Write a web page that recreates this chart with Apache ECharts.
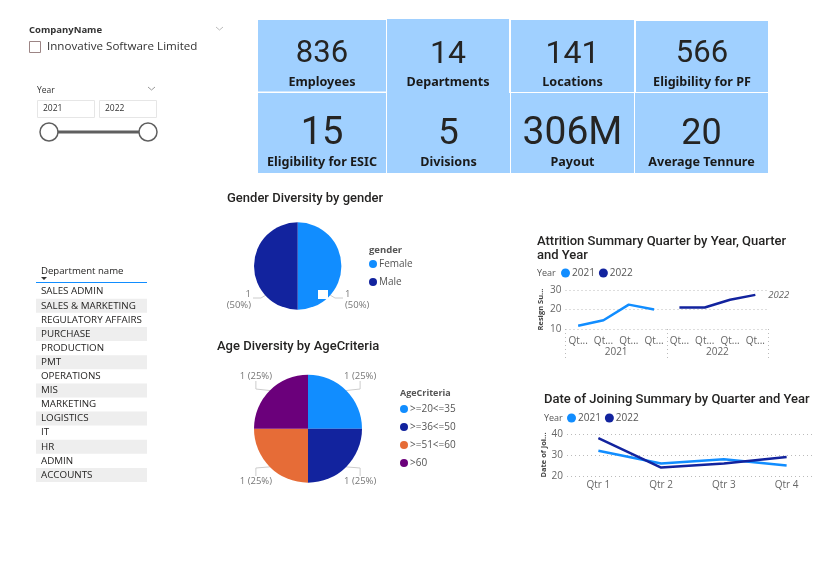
<!DOCTYPE html>
<html>
<head>
<meta charset="utf-8">
<title>HR dashboard</title>
<script src="https://cdn.jsdelivr.net/npm/echarts@6/dist/echarts.min.js"></script>
<style>
html,body{margin:0;padding:0;background:#fff;}
#main{width:818px;height:564px;}
</style>
</head>
<body>
<div id="main"></div>
<script>
// data
var kpiValues = ['836', '14', '141', '566', '15', '5', '306M', '20'];
var kpiLabels = ['Employees', 'Departments', 'Locations', 'Eligibility for PF', 'Eligibility for ESIC', 'Divisions', 'Payout', 'Average Tennure'];
var departments = ['SALES ADMIN', 'SALES & MARKETING', 'REGULATORY AFFAIRS', 'PURCHASE', 'PRODUCTION', 'PMT', 'OPERATIONS', 'MIS', 'MARKETING', 'LOGISTICS', 'IT', 'HR', 'ADMIN', 'ACCOUNTS'];
var genderNames = ['Female', 'Male'];
var genderValues = [1, 1];
var ageNames = ['>=20<=35', '>=36<=50', '>=51<=60', '>60'];
var ageValues = [1, 1, 1, 1];
var yearNames = ['2021', '2022'];
var attritionTicks = ['Qt...', 'Qt...', 'Qt...', 'Qt...', 'Qt...', 'Qt...', 'Qt...', 'Qt...'];
var attrition2021 = [11.7, 14.5, 22.5, 20, null, null, null, null];
var attrition2022 = [null, null, null, null, 21, 21, 25, 27.5];
var joiningTicks = ['Qtr 1', 'Qtr 2', 'Qtr 3', 'Qtr 4'];
var joining2021 = [32, 26, 28, 25];
var joining2022 = [38, 24, 26, 29];

var BLUE = '#118DFF', NAVY = '#12239E', ORANGE = '#E66C37', PURPLE = '#6B007B';
var FONT = '"Open Sans", sans-serif';
var TITLE_FONT = 'Roboto, sans-serif';
var DOTS = { type: [1, 3], color: '#bbb', width: 1 };

var myChart = echarts.init(document.getElementById('main'));

// kpi card boxes, same order as kpiValues
var cards = [
	[258, 20, 128, 71.5, 31], [387, 19, 122, 74, 32], [511, 20, 123, 72, 32], [636, 21, 132, 71, 31],
	[258, 93, 128, 80, 38], [387, 93, 123, 80, 37], [511, 93, 123, 80, 39], [635, 93, 133, 80, 36]
];

function txt(x, y, s, size, color, extra) {
	var style = { x: x, y: y + 1, text: s, fontSize: size, fill: color, fontFamily: FONT, verticalAlign: 'middle', align: 'left' };
	for (var k in extra) style[k] = extra[k];
	return { type: 'text', silent: true, style: style };
}

var gfx = [];
cards.forEach(function(c, i) {
	var cx = c[0] + c[2] / 2;
	gfx.push({ type: 'rect', silent: true, shape: { x: c[0], y: c[1], width: c[2], height: c[3] }, style: { fill: '#A0D0FF' } });
	gfx.push(txt(cx, i < 4 ? 53.5 : 133.5, kpiValues[i], c[4], '#252423', { align: 'center', fontFamily: TITLE_FONT }));
	gfx.push(txt(cx, i < 4 ? 81 : 161, kpiLabels[i], 12.6, '#1a1a1a', { align: 'center', fontWeight: 'bold', fontFamily: '"Noto Sans", sans-serif' }));
});

// company slicer
gfx.push(txt(29, 29, 'CompanyName', 9.5, '#333', { fontWeight: 'bold' }));
gfx.push({ type: 'rect', silent: true, shape: { x: 29.5, y: 41.5, width: 11, height: 11 }, style: { fill: '#fff', stroke: '#9c8585', lineWidth: 1 } });
gfx.push(txt(47, 46, 'Innovative Software Limited', 11.6, '#333'));
gfx.push({ type: 'polyline', silent: true, shape: { points: [[216, 27], [219.5, 30], [223, 27]] }, style: { fill: null, stroke: '#bbb', lineWidth: 1 } });

// year slicer
gfx.push(txt(37, 90, 'Year', 8.5, '#333'));
gfx.push({ type: 'polyline', silent: true, shape: { points: [[148, 87], [151.5, 90], [155, 87]] }, style: { fill: null, stroke: '#999', lineWidth: 1 } });
[37, 99].forEach(function(x, i) {
	gfx.push({ type: 'rect', silent: true, shape: { x: x + 0.5, y: 100.5, width: 57, height: 17 }, style: { fill: '#fff', stroke: '#e6e6e6', lineWidth: 1 } });
	gfx.push(txt(x + 6, 108, yearNames[i], 8.5, '#333'));
});
gfx.push({ type: 'line', silent: true, shape: { x1: 49, y1: 132, x2: 148, y2: 132 }, style: { stroke: '#5f5f5f', lineWidth: 3 } });
[49, 148].forEach(function(x) {
	gfx.push({ type: 'circle', silent: true, shape: { cx: x, cy: 132, r: 9 }, style: { fill: '#fff', stroke: '#5f5f5f', lineWidth: 1.5 } });
});

// department table
gfx.push(txt(41, 270, 'Department name', 9.6, '#252423'));
gfx.push({ type: 'polygon', silent: true, shape: { points: [[41, 277], [47, 277], [44, 280]] }, style: { fill: '#333' } });
gfx.push({ type: 'line', silent: true, shape: { x1: 36, y1: 282.5, x2: 147, y2: 282.5 }, style: { stroke: BLUE, lineWidth: 1 } });
departments.forEach(function(d, i) {
	var cy = 291.7 + i * 14.1;
	if (i % 2 == 1) {
		gfx.push({ type: 'rect', silent: true, shape: { x: 36, y: cy - 7, width: 111, height: 14 }, style: { fill: '#EEEEEE' } });
	}
	gfx.push(txt(41, cy - 1, d, 9.8, '#252423'));
});

// legend headings
gfx.push(txt(369, 249, 'gender', 9.5, '#555', { fontWeight: 'bold' }));
gfx.push(txt(400, 392, 'AgeCriteria', 9, '#555', { fontWeight: 'bold' }));
gfx.push(txt(537, 272, 'Year', 9, '#555'));
gfx.push(txt(544, 417, 'Year', 9, '#555'));

// pie 1 leader lines sit low on the slices, so they are drawn by hand
gfx.push({ type: 'polyline', silent: true, shape: { points: [[330, 295], [335, 298], [343, 298]] }, style: { fill: null, stroke: '#ccc', lineWidth: 1 } });
gfx.push({ type: 'polyline', silent: true, shape: { points: [[266, 295], [261, 298], [253, 298]] }, style: { fill: null, stroke: '#ccc', lineWidth: 1 } });

function genderLayout(p) {
	return p.dataIndex == 0 ? { x: 345, y: 300, align: 'left', verticalAlign: 'middle' } : { x: 251, y: 300, align: 'right', verticalAlign: 'middle' };
}
function ageLayout(p) {
	var spots = [[344, 376, 'left'], [344, 481, 'left'], [272, 481, 'right'], [272, 376, 'right']];
	var s = spots[p.dataIndex];
	return { x: s[0], y: s[1], align: s[2], verticalAlign: 'middle' };
}

function pieData(names, values) {
	return names.map(function(n, i) { return { name: n, value: values[i] }; });
}

var legendText = { fontFamily: FONT, fontSize: 10, color: '#555', padding: [0, 0, 0, -3] };
var titleText = { fontFamily: TITLE_FONT, fontWeight: 500, fontSize: 13, lineHeight: 14, color: '#252423' };

option = {
	animation: false,
	title: [
		{ text: 'Gender Diversity by gender', left: 227, top: 192, padding: 0, textStyle: titleText },
		{ text: 'Age Diversity by AgeCriteria', left: 217, top: 340, padding: 0, textStyle: titleText },
		{ text: 'Attrition Summary Quarter by Year, Quarter\nand Year', left: 537, top: 235, padding: 0, textStyle: titleText },
		{ text: 'Date of Joining Summary by Quarter and Year', left: 544, top: 393, padding: 0, textStyle: titleText }
	],
	legend: [
		{ data: genderNames, orient: 'vertical', left: 369, top: 259, padding: 0, icon: 'circle', itemWidth: 8, itemHeight: 8, itemGap: 8, textStyle: legendText },
		{ data: ageNames, orient: 'vertical', left: 400, top: 404, padding: 0, icon: 'circle', itemWidth: 8, itemHeight: 8, itemGap: 8, textStyle: legendText },
		{ data: yearNames, left: 561, top: 268, padding: 0, icon: 'circle', itemWidth: 9, itemHeight: 9, itemGap: 4, textStyle: legendText },
		{ data: yearNames, left: 567, top: 413, padding: 0, icon: 'circle', itemWidth: 9, itemHeight: 9, itemGap: 4, textStyle: legendText }
	],
	grid: [
		{ left: 565.5, top: 290, width: 202.5, height: 39, containLabel: false },
		{ left: 567, top: 434, width: 254, height: 42, containLabel: false }
	],
	xAxis: [
		{ gridIndex: 0, type: 'category', data: attritionTicks, axisLine: { show: false }, axisTick: { show: false },
			axisLabel: { interval: 0, margin: 7, fontFamily: FONT, fontSize: 10, color: '#666' } },
		{ gridIndex: 0, type: 'category', data: yearNames, position: 'bottom', axisLine: { show: false },
			axisTick: { show: true, length: 29, lineStyle: DOTS },
			axisLabel: { interval: 0, margin: 18, fontFamily: FONT, fontSize: 10, color: '#666' } },
		{ gridIndex: 1, type: 'category', data: joiningTicks, axisLine: { show: false }, axisTick: { show: false },
			axisLabel: { margin: 4, fontFamily: FONT, fontSize: 10, color: '#666' } }
	],
	yAxis: [
		{ gridIndex: 0, type: 'value', min: 10, max: 30, interval: 10, name: 'Resign Su...', nameLocation: 'middle', nameGap: 21,
			nameTextStyle: { fontFamily: FONT, fontSize: 7.5, fontWeight: 'bold', color: '#444' },
			axisLabel: { margin: 4, fontFamily: FONT, fontSize: 10, color: '#666' },
			splitLine: { lineStyle: DOTS } },
		{ gridIndex: 1, type: 'value', min: 20, max: 40, interval: 10, name: 'Date of Joi...', nameLocation: 'middle', nameGap: 17,
			nameTextStyle: { fontFamily: FONT, fontSize: 7.5, fontWeight: 'bold', color: '#444' },
			axisLabel: { margin: 4, fontFamily: FONT, fontSize: 10, color: '#666' },
			splitLine: { lineStyle: DOTS } }
	],
	series: [
		{ name: 'Gender', type: 'pie', center: [297.7, 266], radius: [0, 43.7], startAngle: 90, clockwise: true,
			color: [BLUE, NAVY], data: pieData(genderNames, genderValues),
			label: { formatter: '{c}\n({d}%)', fontFamily: FONT, fontSize: 9.5, lineHeight: 11, color: '#777' },
			labelLine: { show: false }, labelLayout: genderLayout, emphasis: { disabled: true } },
		{ name: 'Age', type: 'pie', center: [308, 428.7], radius: [0, 54], startAngle: 90, clockwise: true,
			color: [BLUE, NAVY, ORANGE, PURPLE], data: pieData(ageNames, ageValues),
			label: { formatter: '{c} ({d}%)', fontFamily: FONT, fontSize: 9.5, color: '#777' },
			labelLine: { show: true, length: 8, length2: 8, lineStyle: { color: '#ccc', width: 1 } }, labelLayout: ageLayout, emphasis: { disabled: true } },
		{ name: '2021', type: 'line', xAxisIndex: 0, yAxisIndex: 0, data: attrition2021, showSymbol: false, symbol: 'none',
			connectNulls: false, lineStyle: { color: BLUE, width: 2.5 }, itemStyle: { color: BLUE } },
		{ name: '2022', type: 'line', xAxisIndex: 0, yAxisIndex: 0, data: attrition2022, showSymbol: false, symbol: 'none',
			connectNulls: false, lineStyle: { color: NAVY, width: 2.5 }, itemStyle: { color: NAVY },
			endLabel: { show: true, formatter: '2022', distance: 13, fontFamily: FONT, fontSize: 9.5, fontStyle: 'italic', color: '#666' } },
		{ name: '2021', type: 'line', xAxisIndex: 2, yAxisIndex: 1, data: joining2021, showSymbol: false, symbol: 'none',
			lineStyle: { color: BLUE, width: 2.5 }, itemStyle: { color: BLUE } },
		{ name: '2022', type: 'line', xAxisIndex: 2, yAxisIndex: 1, data: joining2022, showSymbol: false, symbol: 'none',
			lineStyle: { color: NAVY, width: 2.5 }, itemStyle: { color: NAVY } }
	],
	graphic: { elements: gfx.concat([
		// little white chip sitting on the Female slice
		{ type: 'rect', silent: true, z: 100, shape: { x: 318, y: 290, width: 10, height: 9 }, style: { fill: '#fff' } },
		// gridlines of the lower line chart stop short of the page edge
		{ type: 'rect', silent: true, z: 100, shape: { x: 812, y: 430, width: 6, height: 50 }, style: { fill: '#fff' } }
	]) }
};
myChart.setOption(option);
</script>
</body>
</html>
